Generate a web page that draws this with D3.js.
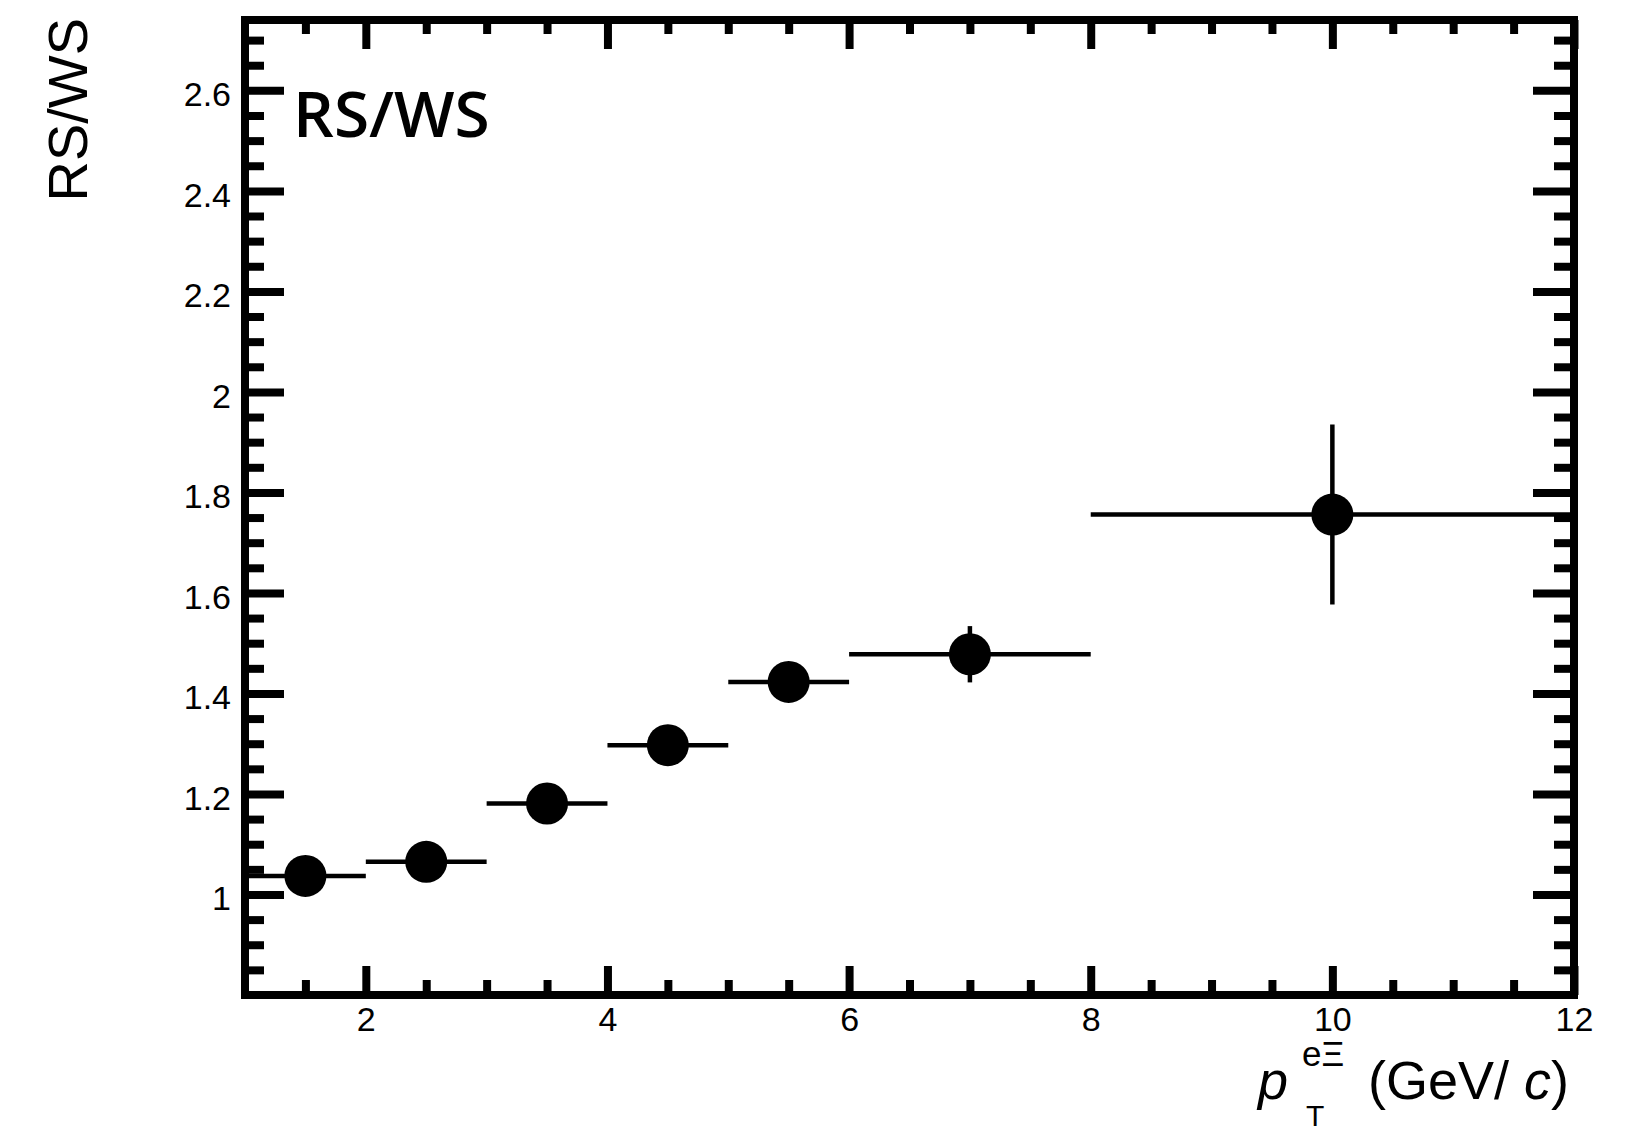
<!DOCTYPE html>
<html>
<head>
<meta charset="utf-8">
<script src="https://cdn.jsdelivr.net/npm/d3@7"></script>
<style>
  html, body { margin: 0; padding: 0; background: #fff; }
  svg text { font-family: "Liberation Sans", Arial, Helvetica, sans-serif; }
</style>
</head>
<body>
<svg id="chart"></svg>
<script>
// RS/WS ratio vs pT(e Xi)
const binLo = [1, 2, 3, 4, 5, 6, 8];
const binHi = [2, 3, 4, 5, 6, 8, 12];
const ptX = [1.5, 2.5, 3.5, 4.5, 5.5, 7, 10];
const ratio = [1.037, 1.065, 1.181, 1.297, 1.423, 1.478, 1.756];
const ratioErr = [0.015, 0.018, 0.022, 0.026, 0.03, 0.056, 0.179];

const xTicks = [2, 4, 6, 8, 10, 12];
const yTicks = [1, 1.2, 1.4, 1.6, 1.8, 2, 2.2, 2.4, 2.6];

const width = 1628;
const height = 1134;
const frameL = 245, frameR = 1574, frameT = 20, frameB = 995;

const xScale = d3.scaleLinear().domain([1, 12]).range([frameL, frameR]);
const yScale = d3.scaleLinear().domain([0.8, 2.74]).range([frameB, frameT]);

const xMinor = d3.range(1.5, 12, 0.5).filter(v => !xTicks.includes(v));
const yMinor = d3.range(17, 55).map(i => i * 0.05).filter(v => !yTicks.some(t => Math.abs(t - v) < 1e-6));

const svg = d3.select("#chart")
              .attr("width", width)
              .attr("height", height);

function styleAxis(g, fontSize) {
  g.select(".domain").remove();
  g.selectAll(".tick line").attr("stroke", "#000").attr("stroke-width", 8);
  g.selectAll(".tick text")
    .attr("fill", "#000")
    .style("font-size", fontSize + "px")
    .style("font-family", "'Liberation Sans', Arial, sans-serif");
}

// bottom axis
svg.append("g")
  .attr("transform", `translate(0, ${frameB})`)
  .call(d3.axisBottom(xScale).tickValues(xTicks).tickSize(-29).tickPadding(12).tickFormat(d3.format("")))
  .call(g => styleAxis(g, 34));
svg.append("g")
  .attr("transform", `translate(0, ${frameB})`)
  .call(d3.axisBottom(xScale).tickValues(xMinor).tickSize(-15).tickFormat(""))
  .call(g => styleAxis(g, 34));
// top axis
svg.append("g")
  .attr("transform", `translate(0, ${frameT})`)
  .call(d3.axisTop(xScale).tickValues(xTicks).tickSize(-29).tickFormat(""))
  .call(g => styleAxis(g, 34));
svg.append("g")
  .attr("transform", `translate(0, ${frameT})`)
  .call(d3.axisTop(xScale).tickValues(xMinor).tickSize(-14).tickFormat(""))
  .call(g => styleAxis(g, 34));
// left axis
svg.append("g")
  .attr("transform", `translate(${frameL}, 0)`)
  .call(d3.axisLeft(yScale).tickValues(yTicks).tickSize(-39).tickPadding(14).tickFormat(d3.format("")))
  .call(g => styleAxis(g, 34))
  .call(g => g.selectAll(".tick text").attr("dy", "0.45em"));
svg.append("g")
  .attr("transform", `translate(${frameL}, 0)`)
  .call(d3.axisLeft(yScale).tickValues(yMinor).tickSize(-19).tickFormat(""))
  .call(g => styleAxis(g, 34));
// right axis
svg.append("g")
  .attr("transform", `translate(${frameR}, 0)`)
  .call(d3.axisRight(yScale).tickValues(yTicks).tickSize(-41).tickFormat(""))
  .call(g => styleAxis(g, 34));
svg.append("g")
  .attr("transform", `translate(${frameR}, 0)`)
  .call(d3.axisRight(yScale).tickValues(yMinor).tickSize(-20).tickFormat(""))
  .call(g => styleAxis(g, 34));

// frame
svg.append("rect")
  .attr("x", frameL)
  .attr("y", frameT)
  .attr("width", frameR - frameL)
  .attr("height", frameB - frameT)
  .attr("fill", "none")
  .attr("stroke", "#000")
  .attr("stroke-width", 8);

const data = ptX.map((x, i) => ({x: x, lo: binLo[i], hi: binHi[i], y: ratio[i], e: ratioErr[i]}));

// error bars
svg.selectAll("line.xerr")
  .data(data)
  .enter()
  .append("line")
    .attr("class", "xerr")
    .attr("x1", d => xScale(d.lo))
    .attr("x2", d => xScale(d.hi))
    .attr("y1", d => yScale(d.y))
    .attr("y2", d => yScale(d.y))
    .attr("stroke", "#000")
    .attr("stroke-width", 4.5);

svg.selectAll("line.yerr")
  .data(data)
  .enter()
  .append("line")
    .attr("class", "yerr")
    .attr("x1", d => xScale(d.x))
    .attr("x2", d => xScale(d.x))
    .attr("y1", d => yScale(d.y - d.e))
    .attr("y2", d => yScale(d.y + d.e))
    .attr("stroke", "#000")
    .attr("stroke-width", 4.5);

svg.selectAll("circle")
  .data(data)
  .enter()
  .append("circle")
    .attr("cx", d => xScale(d.x))
    .attr("cy", d => yScale(d.y))
    .attr("r", 21)
    .attr("fill", "#000");

// y title
svg.append("text")
  .attr("transform", "translate(87, 18) rotate(-90)")
  .style("text-anchor", "end")
  .style("font-size", "56px")
  .text("RS/WS");

// label in frame
svg.append("text")
  .attr("x", 293)
  .attr("y", 137)
  .style("font-family", "'Open Sans', 'Noto Sans', sans-serif")
  .style("font-weight", 600)
  .style("font-size", "64px")
  .text("RS/WS");

// x title: p_T^{e Xi} (GeV/c)
svg.append("text")
  .attr("x", 1258)
  .attr("y", 1099)
  .style("font-size", "54px")
  .style("font-style", "italic")
  .text("p");
svg.append("text")
  .attr("x", 1302)
  .attr("y", 1066)
  .style("font-size", "35px")
  .text("eΞ");
svg.append("text")
  .attr("x", 1306)
  .attr("y", 1126)
  .style("font-size", "30px")
  .text("T");
const unit = svg.append("text")
  .attr("x", 1368)
  .attr("y", 1099)
  .style("font-size", "54px");
unit.append("tspan").text("(GeV/ ");
unit.append("tspan").style("font-style", "italic").text("c");
unit.append("tspan").text(")");
</script>
</body>
</html>
